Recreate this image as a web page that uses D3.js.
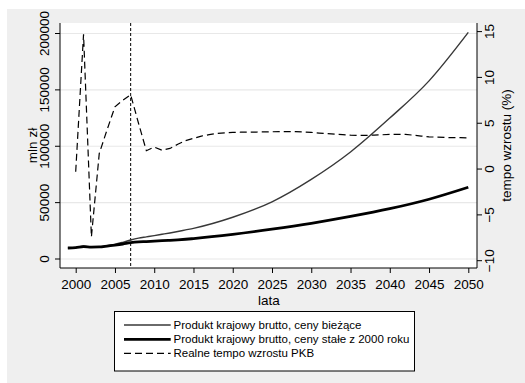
<!DOCTYPE html>
<html><head><meta charset="utf-8">
<script src="https://cdn.jsdelivr.net/npm/d3@7"></script>
<style>
body{margin:0;background:#fff}
svg{display:block}
text{font-family:"Liberation Sans",Arial,sans-serif;fill:#000}
</style>
</head><body>
<svg id="c" width="525" height="383"></svg>
<script>
// ---- data ----
const years = [1999,2000,2001,2002,2003,2004,2005,2006,2007,2008,2009,2010,2011,2012,2013,2014,2015,2020,2025,2030,2035,2040,2045,2050];
const nominal = [9750,10100,11500,10500,10800,11800,13000,14800,16850,18500,19600,20700,21900,23100,24400,25800,27200,37000,50700,70600,94900,125000,158000,201000];
const real = [9750,10000,10900,10600,10700,11400,12300,13300,14450,15200,15500,15900,16250,16600,17000,17500,18100,21800,26400,31600,37700,44600,53000,63600];
const growthYears = d3.range(2000, 2051);
const growth = [-0.3,14.7,-7.4,1.7,4.3,6.8,7.5,8.1,5.0,2.0,2.4,2.05,2.25,2.7,3.1,3.35,3.6,3.75,3.9,3.95,4.0,4.02,4.03,4.04,4.05,4.07,4.09,4.1,4.08,4.05,4.0,3.93,3.87,3.82,3.76,3.7,3.68,3.68,3.7,3.74,3.78,3.8,3.78,3.7,3.6,3.52,3.48,3.45,3.43,3.42,3.4];
const xTicks = [2000,2005,2010,2015,2020,2025,2030,2035,2040,2045,2050];
const leftTicks = [0,50000,100000,150000,200000];
const rightTicks = [-10,-5,0,5,10,15];
const markerYear = 2007;
const legendLabels = ["Produkt krajowy brutto, ceny bieżące","Produkt krajowy brutto, ceny stałe z 2000 roku","Realne tempo wzrostu PKB"];
const xTitle = "lata", yLeftTitle = "mln zł", yRightTitle = "tempo wzrostu (%)";

// ---- layout ----
const svg = d3.select("#c");
const P = {l:60, r:477, t:23, b:268};
const x = d3.scaleLinear().domain([2000,2050]).range([75.7,468.3]);
const yL = d3.scaleLinear().domain([0,200000]).range([259,33.5]);
const yR = d3.scaleLinear().domain([-10,15]).range([260.7,31.6]);
const FS = 13.5;

svg.append("rect").attr("x",7).attr("y",9).attr("width",518).attr("height",374).attr("fill","#efefef");
svg.append("rect").attr("x",P.l).attr("y",P.t).attr("width",P.r-P.l).attr("height",P.b-P.t).attr("fill","#fff");

// gridlines
svg.append("g").selectAll("line").data(leftTicks).join("line")
  .attr("x1",P.l).attr("x2",P.r).attr("y1",d=>yL(d)).attr("y2",d=>yL(d))
  .attr("stroke","#e8e8e8").attr("stroke-width",1.2);

// vertical marker
svg.append("line").attr("x1",x(markerYear)).attr("x2",x(markerYear)).attr("y1",P.t).attr("y2",P.b)
  .attr("stroke","#000").attr("stroke-width",1).attr("stroke-dasharray","3,2");

const lineL = d3.line().x(d=>x(d[0])).y(d=>yL(d[1])).curve(d3.curveMonotoneX);
const lineR = d3.line().x(d=>x(d[0])).y(d=>yR(d[1]));

svg.append("path").datum(years.map((y,i)=>[y,nominal[i]])).attr("d",lineL)
  .attr("fill","none").attr("stroke","#383838").attr("stroke-width",1.4);
svg.append("path").datum(years.map((y,i)=>[y,real[i]])).attr("d",lineL)
  .attr("fill","none").attr("stroke","#000").attr("stroke-width",2.8);
svg.append("path").datum(growthYears.map((y,i)=>[y,growth[i]])).attr("d",lineR)
  .attr("fill","none").attr("stroke","#000").attr("stroke-width",1.2).attr("stroke-dasharray","7,4");

// axes
const ax = svg.append("g").attr("transform",`translate(0,${P.b})`)
  .call(d3.axisBottom(x).tickValues(xTicks).tickFormat(d3.format("d")).tickSizeOuter(0).tickSize(5).tickPadding(6));
ax.select(".domain").attr("d",`M${P.l},0H${P.r}`);
ax.selectAll("text").attr("font-size",FS).attr("font-family","Liberation Sans, Arial");

const ay = svg.append("g").attr("transform",`translate(${P.l},0)`)
  .call(d3.axisLeft(yL).tickValues(leftTicks).tickFormat(d3.format("d")).tickSizeOuter(0).tickSize(5));
ay.select(".domain").attr("d",`M0,${P.t}V${P.b}`);
ay.selectAll("text").attr("font-size",FS).attr("font-family","Liberation Sans, Arial")
  .attr("x",0).attr("dy",0).attr("text-anchor","middle")
  .attr("transform",d=>`translate(-11.5,${yL(d)}) rotate(-90)`).attr("y",0);
ay.selectAll(".tick").attr("transform",null);
ay.selectAll(".tick line").attr("y1",d=>yL(d)).attr("y2",d=>yL(d));

const ar = svg.append("g").attr("transform",`translate(${P.r},0)`)
  .call(d3.axisRight(yR).tickValues(rightTicks).tickFormat(d3.format("d")).tickSizeOuter(0).tickSize(5));
ar.select(".domain").attr("d",`M0,${P.t}V${P.b}`);
ar.selectAll(".tick").attr("transform",null);
ar.selectAll(".tick line").attr("y1",d=>yR(d)).attr("y2",d=>yR(d));
ar.selectAll("text").attr("font-size",FS).attr("font-family","Liberation Sans, Arial")
  .attr("x",0).attr("dy",0).attr("y",0).attr("text-anchor","middle")
  .attr("transform",d=>`translate(16.5,${yR(d)}) rotate(-90)`);

svg.selectAll(".domain").attr("stroke","#000");
svg.selectAll(".tick line").attr("stroke","#000");

// titles
svg.append("text").attr("x",(P.l+P.r)/2+0.5).attr("y",304.5).attr("text-anchor","middle").attr("font-size",FS).text(xTitle);
svg.append("text").attr("transform",`translate(37,${(P.t+P.b)/2}) rotate(-90)`).attr("text-anchor","middle").attr("font-size",FS).text(yLeftTitle);
svg.append("text").attr("transform",`translate(511,${(P.t+P.b)/2}) rotate(-90)`).attr("text-anchor","middle").attr("font-size",FS).text(yRightTitle);

// legend
const lg = svg.append("g");
lg.append("rect").attr("x",114.5).attr("y",311.5).attr("width",300).attr("height",59.5)
  .attr("fill","#fff").attr("stroke","#000").attr("stroke-width",1);
const styles = [{w:1.4,c:"#383838",d:null},{w:2.8,c:"#000",d:null},{w:1.2,c:"#000",d:"7,4"}];
const rowY = [325,339.3,353.3];
legendLabels.forEach((t,i)=>{
  lg.append("line").attr("x1",124).attr("x2",170.7).attr("y1",rowY[i]).attr("y2",rowY[i])
    .attr("stroke",styles[i].c).attr("stroke-width",styles[i].w).attr("stroke-dasharray",styles[i].d);
  lg.append("text").attr("x",173.5).attr("y",rowY[i]+4).attr("font-size",11.5).text(t);
});
</script>
</body></html>
